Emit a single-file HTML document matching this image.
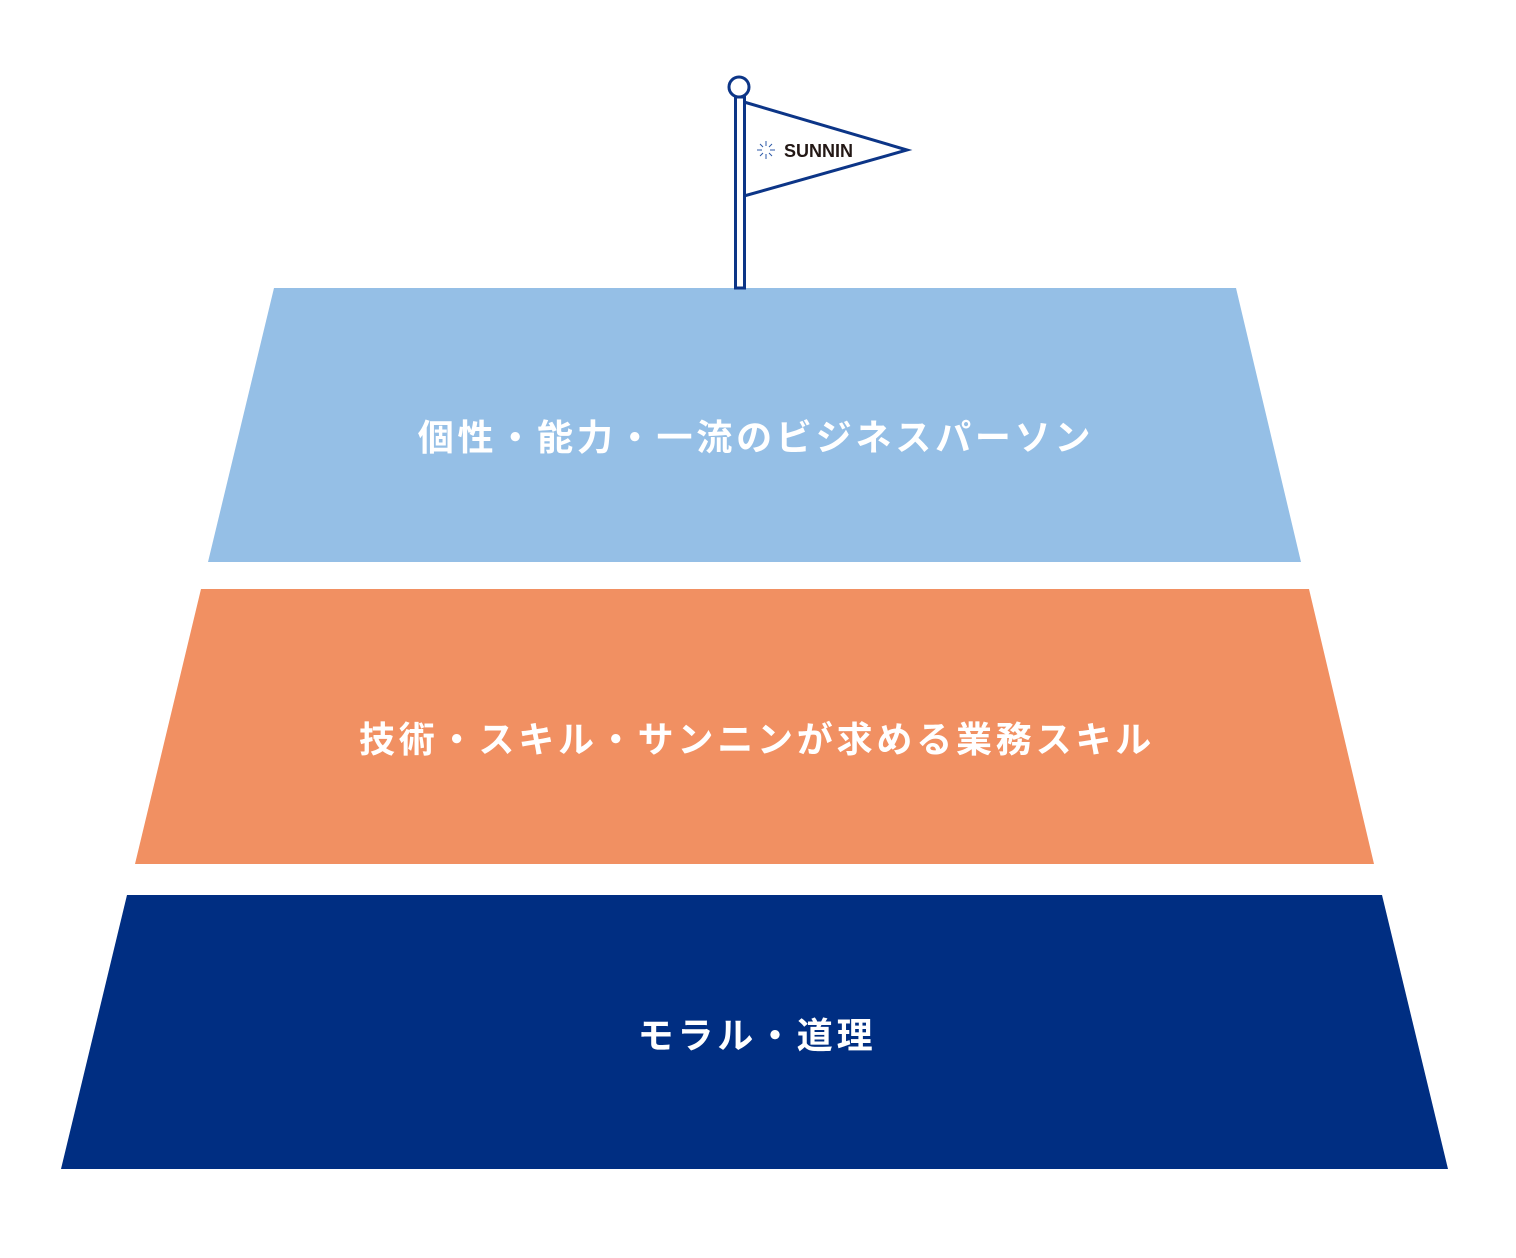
<!DOCTYPE html>
<html><head><meta charset="utf-8"><style>
html,body{margin:0;padding:0;background:#fff;}
svg{display:block}
text{font-family:"Liberation Sans","Noto Sans CJK JP",sans-serif;font-weight:bold;}
</style></head><body>
<svg width="1516" height="1258" viewBox="0 0 1516 1258" xmlns="http://www.w3.org/2000/svg">
<polygon points="274,288 1236,288 1301,562 208,562" fill="#95bfe6"/>
<polygon points="201,589 1309,589 1374,864 135,864" fill="#f19062"/>
<polygon points="127,895 1382,895 1448,1169 61,1169" fill="#002e82"/>
<text x="756" y="450" font-size="36" fill="#fff" text-anchor="middle" letter-spacing="3.8">個性・能力・一流のビジネスパーソン</text>
<text x="757" y="752" font-size="36" fill="#fff" text-anchor="middle" letter-spacing="3.8">技術・スキル・サンニンが求める業務スキル</text>
<text x="757" y="1048" font-size="36" fill="#fff" text-anchor="middle" letter-spacing="3.8">モラル・道理</text>
<!-- flag -->
<polygon points="744,102 907,150 744,196" fill="#fff" stroke="#0c3587" stroke-width="3" stroke-linejoin="miter"/>
<rect x="735.5" y="97" width="9" height="191" fill="#fff" stroke="#0c3587" stroke-width="3"/>
<circle cx="739" cy="87" r="10" fill="#fff" stroke="#0c3587" stroke-width="3"/>
<g stroke="#2d5aa8" stroke-width="1">
<line x1="766" y1="141" x2="766" y2="146"/><line x1="766" y1="154" x2="766" y2="159"/>
<line x1="757" y1="150" x2="762" y2="150"/><line x1="770" y1="150" x2="775" y2="150"/>
<line x1="760" y1="144" x2="763" y2="147"/><line x1="769" y1="153" x2="772" y2="156"/>
<line x1="772" y1="144" x2="769" y2="147"/><line x1="763" y1="153" x2="760" y2="156"/>
</g>
<text x="784" y="157" font-size="18" fill="#231815" font-weight="bold">SUNNIN</text>
</svg>
</body></html>
